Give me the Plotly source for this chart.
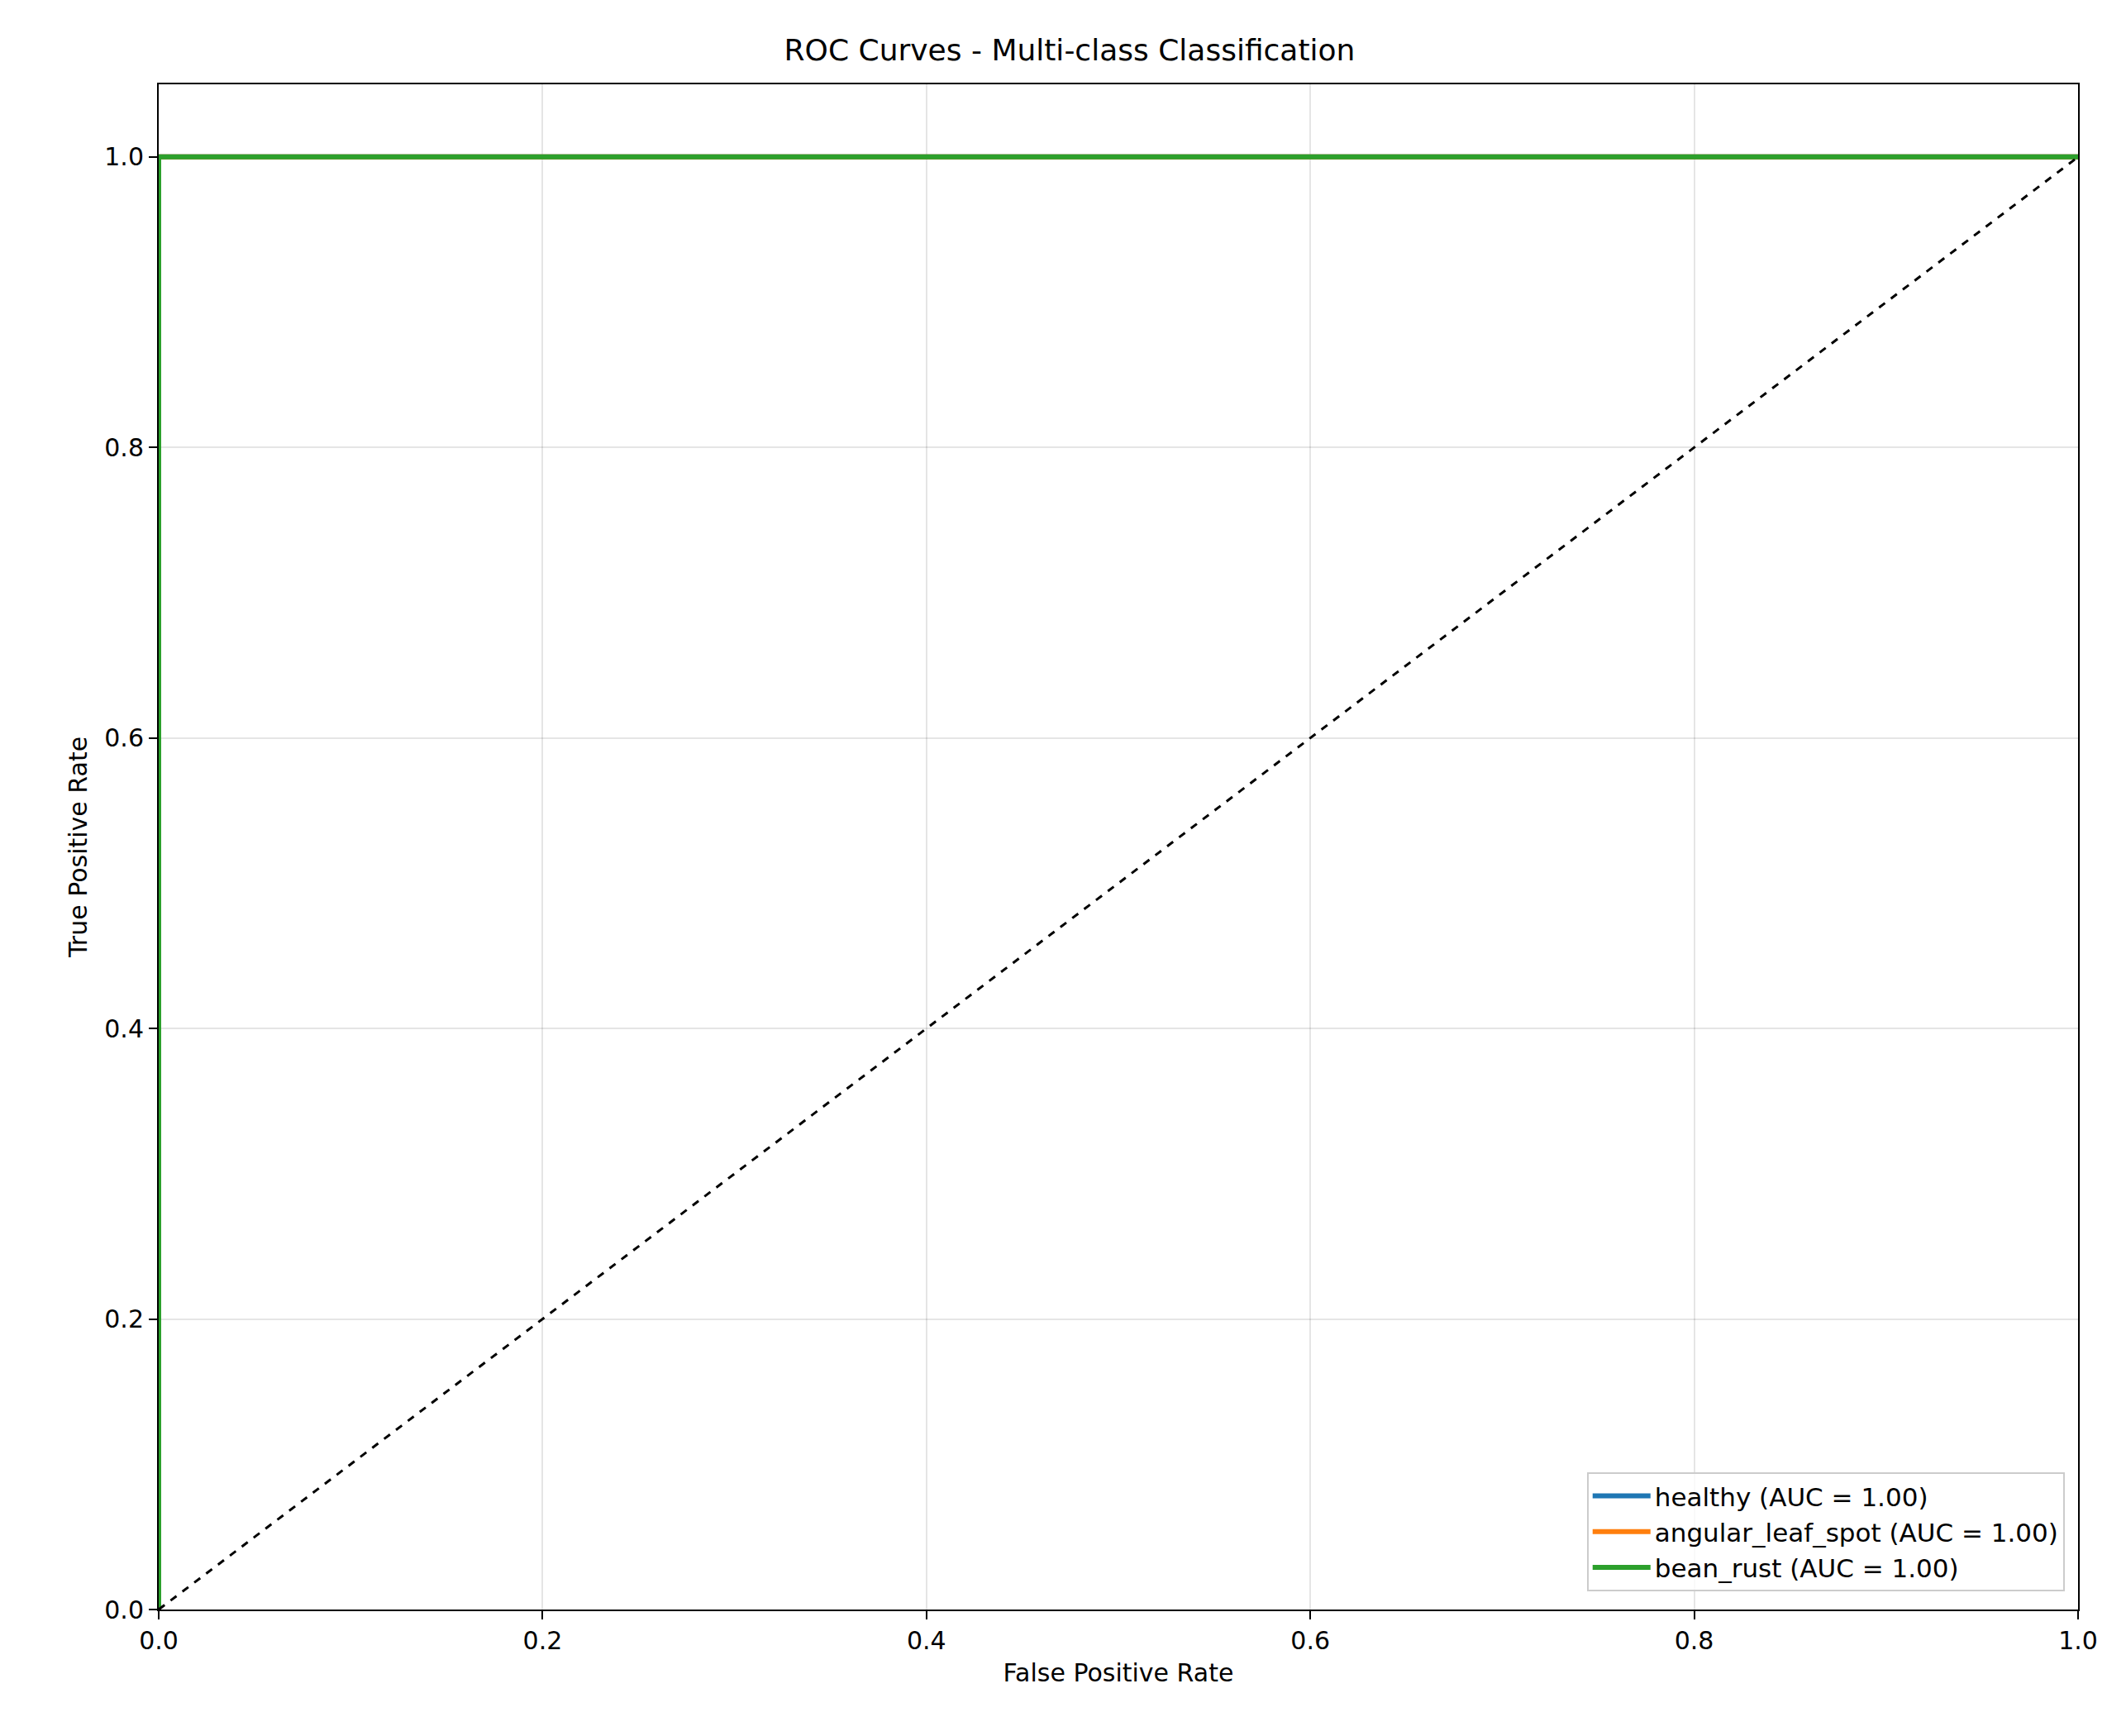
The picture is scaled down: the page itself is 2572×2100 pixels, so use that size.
import plotly.graph_objects as go

# ROC curves (all perfect classifiers)
class_names = ["healthy", "angular_leaf_spot", "bean_rust"]
auc_values = [1.00, 1.00, 1.00]
fpr_values = [[0.0, 0.0, 1.0], [0.0, 0.0, 1.0], [0.0, 0.0, 1.0]]
tpr_values = [[0.0, 1.0, 1.0], [0.0, 1.0, 1.0], [0.0, 1.0, 1.0]]
colors = ["#1f77b4", "#ff7f0e", "#2ca02c"]
chance_x = [0, 1]
chance_y = [0, 1]

fig = go.Figure()
for name, auc, fx, ty, c in zip(class_names, auc_values, fpr_values, tpr_values, colors):
    fig.add_trace(go.Scatter(x=fx, y=ty, mode="lines", name=f"{name} (AUC = {auc:.2f})",
                             line=dict(color=c, width=6)))
fig.add_trace(go.Scatter(x=chance_x, y=chance_y, mode="lines", showlegend=False,
                         line=dict(color="black", width=3, dash="dash")))

axis_style = dict(showline=True, linecolor="black", linewidth=2, mirror=True,
                  ticks="outside", ticklen=10, tickwidth=2, tickcolor="black",
                  showgrid=True, gridcolor="rgba(0,0,0,0.1)", gridwidth=2,
                  zeroline=False, tickfont=dict(size=30), tickformat=".1f")

fig.update_layout(
    width=2572, height=2100,
    paper_bgcolor="white", plot_bgcolor="white",
    font=dict(family="DejaVu Sans", size=30, color="black"),
    margin=dict(l=184, r=66, t=94, b=161),
    title=dict(text="ROC Curves - Multi-class Classification", x=0.5, xanchor="center",
               y=1 - 52 / 2100, yanchor="middle", font=dict(size=36)),
    xaxis=dict(range=[0, 1], dtick=0.2, title=dict(text="False Positive Rate", font=dict(size=30), standoff=12), **axis_style),
    yaxis=dict(range=[0, 1.05], dtick=0.2, title=dict(text="True Positive Rate", font=dict(size=30), standoff=12), **axis_style),
    legend=dict(x=0.993, y=0.012, xanchor="right", yanchor="bottom",
                bgcolor="rgba(255,255,255,0.8)", bordercolor="#cccccc", borderwidth=2,
                font=dict(size=31), itemwidth=70),
)

fig.write_html("out.html")
